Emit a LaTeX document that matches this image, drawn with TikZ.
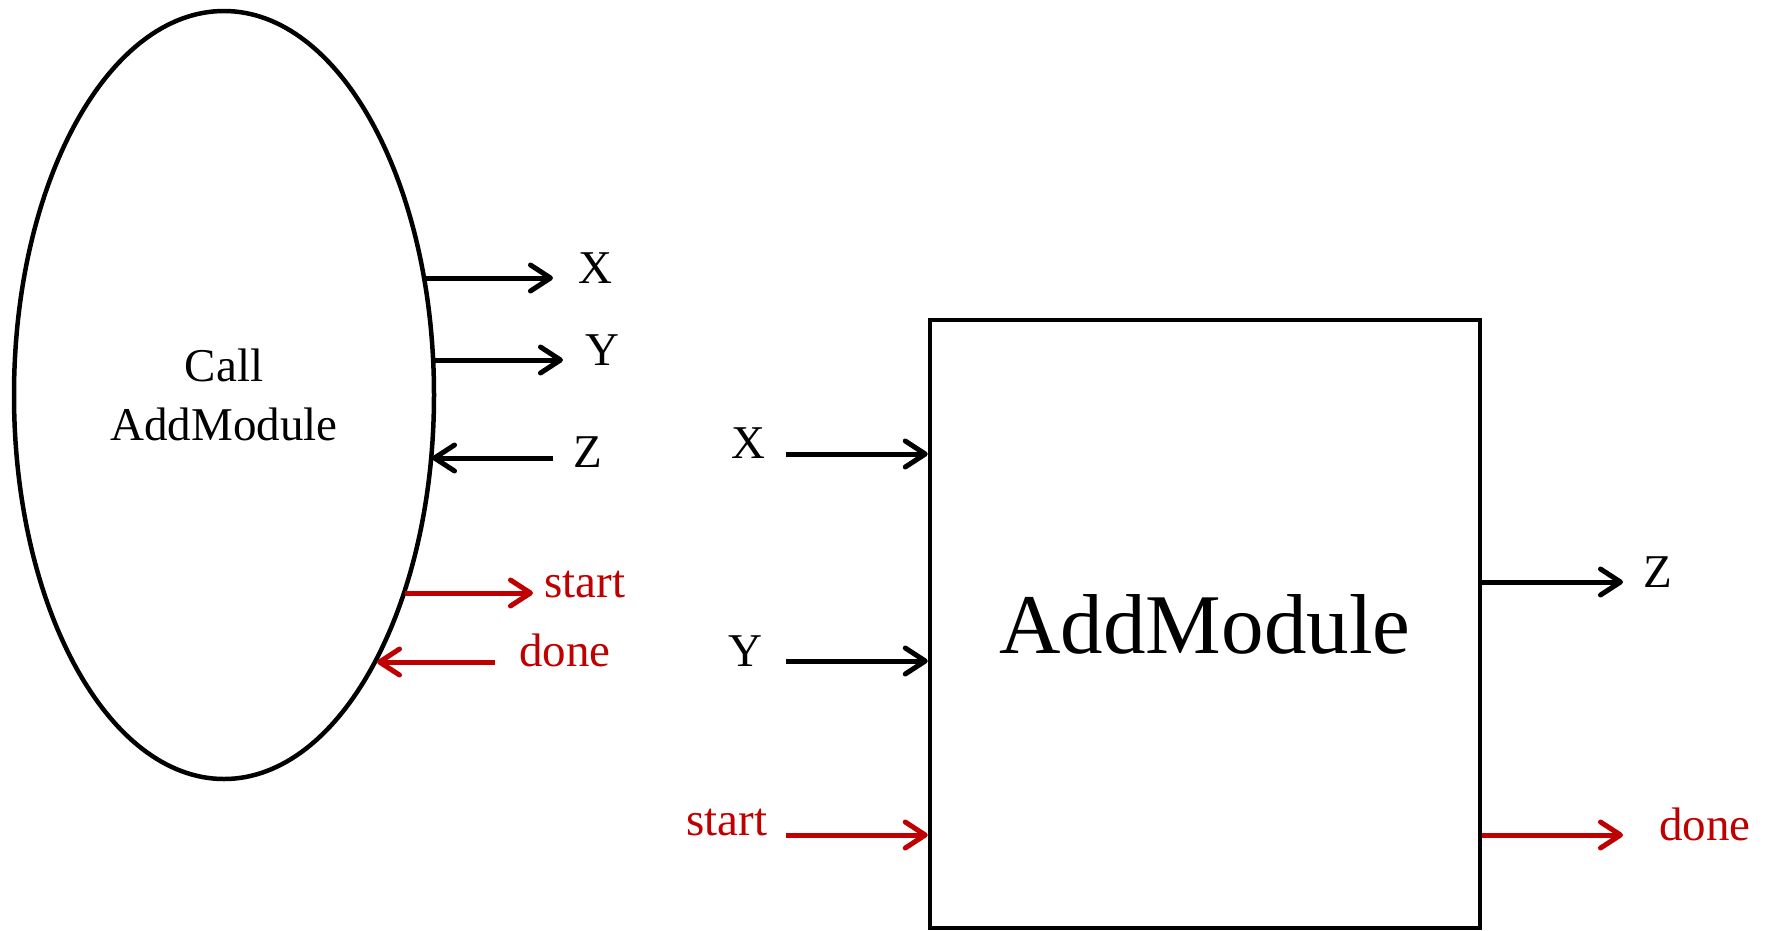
\documentclass[tikz,border=0pt]{standalone}
\usepackage{fontspec}
\setmainfont{Liberation Serif}
\usetikzlibrary{shapes.geometric,arrows.meta}
\definecolor{sigred}{HTML}{C00000}
\begin{document}
\begin{tikzpicture}[x=1pt,y=-1pt,
  sig/.style={line width=5pt,-{Straight Barb[length=20pt,width=26pt,round]}},
  red sig/.style={sig,draw=sigred},
  lbl/.style={font=\fontsize{47}{56}\selectfont,anchor=base,inner sep=0pt},
  red lbl/.style={lbl,text=sigred}]
\useasboundingbox (0,0) rectangle (1771,930);
% caller ellipse
\node[ellipse,draw,line width=4.5pt,minimum width=420pt,minimum height=768pt,inner sep=0pt,
      align=center,font=\fontsize{47}{59}\selectfont] (call) at (224,395) {Call\\AddModule};
% module box
\node[draw,line width=4.5pt,minimum width=550pt,minimum height=608pt,inner sep=0pt,
      font=\fontsize{85}{100}\selectfont] (mod) at (1205,624) {AddModule};
% points on the ellipse border
\coordinate (eX) at (424,278);
\coordinate (eY) at (433,360);
\coordinate (eZ) at (432,458);
\coordinate (eS) at (405,593);
\coordinate (eD) at (377,662);
% free ends, left
\coordinate (oX) at (553,278);
\coordinate (oY) at (563,360);
\coordinate (oZ) at (553,458);
\coordinate (oS) at (533,593);
\coordinate (oD) at (495,662);
% free ends, right
\coordinate (iX) at (786,454);
\coordinate (iY) at (786,661);
\coordinate (iS) at (786,835);
\coordinate (rZ) at (1623,582);
\coordinate (rD) at (1623,835);
% left labels
\node[lbl] (lX) at (595,283) {X};
\node[lbl] (lY) at (602,365) {Y};
\node[lbl] (lZ) at (588,467) {Z};
\node[red lbl] (lS) at (585,597) {start};
\node[red lbl] (lD) at (565,666) {done};
% right labels
\node[lbl] (mX) at (748,458) {X};
\node[lbl] (mY) at (745,666) {Y};
\node[red lbl] (mS) at (727,835) {start};
\node[lbl] (mZ) at (1658,587) {Z};
\node[red lbl] (mD) at (1705,840) {done};
% left arrows
\draw[sig] (eX) -- (oX);
\draw[sig] (eY) -- (oY);
\draw[sig] (oZ) -- (eZ);
\draw[red sig] (eS) -- (oS);
\draw[red sig] (oD) -- (eD);
% right arrows
\draw[sig] (iX) -- (iX -| mod.west);
\draw[sig] (iY) -- (iY -| mod.west);
\draw[red sig] (iS) -- (iS -| mod.west);
\draw[sig] (rZ -| mod.east) -- (rZ);
\draw[red sig] (rD -| mod.east) -- (rD);
\end{tikzpicture}
\end{document}
